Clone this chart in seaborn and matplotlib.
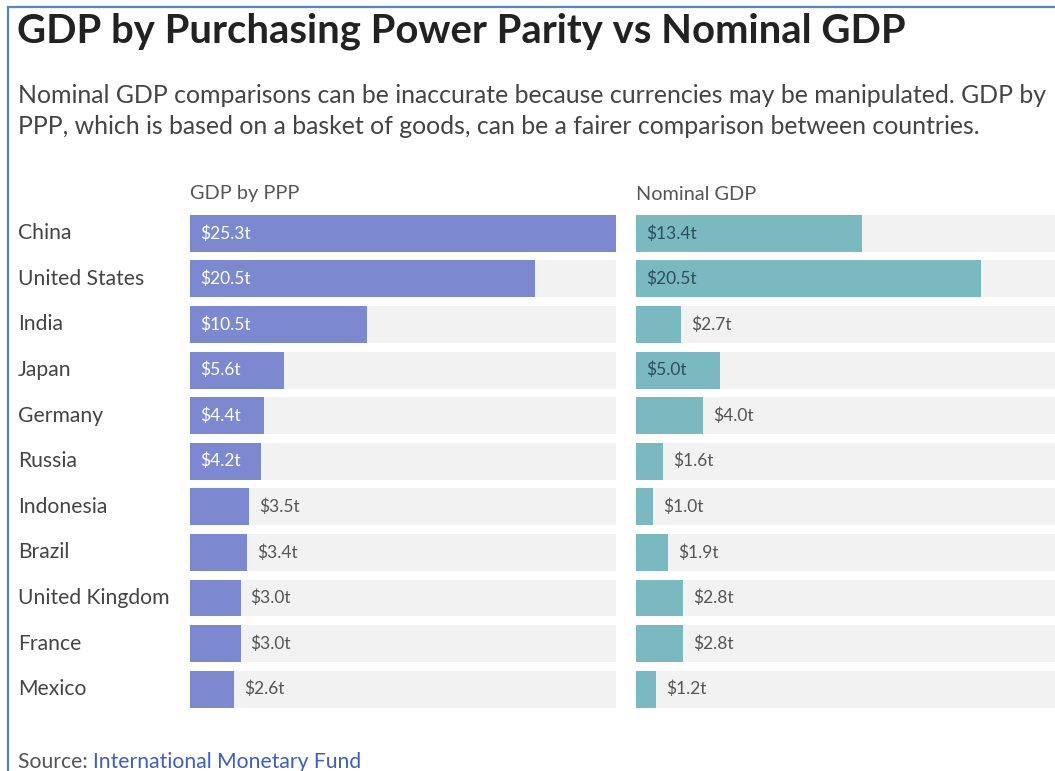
import matplotlib
matplotlib.use("Agg")
import matplotlib.pyplot as plt
import matplotlib.patches as mpatches
from matplotlib import transforms
import seaborn as sns
import pandas as pd

# --- data -------------------------------------------------------------
countries = ["China", "United States", "India", "Japan", "Germany", "Russia",
             "Indonesia", "Brazil", "United Kingdom", "France", "Mexico"]
gdp_ppp = [25.3, 20.5, 10.5, 5.6, 4.4, 4.2, 3.5, 3.4, 3.0, 3.0, 2.6]
gdp_nominal = [13.4, 20.5, 2.7, 5.0, 4.0, 1.6, 1.0, 1.9, 2.8, 2.8, 1.2]
panel_titles = ["GDP by PPP", "Nominal GDP"]

title = "GDP by Purchasing Power Parity vs Nominal GDP"
subtitle = ("Nominal GDP comparisons can be inaccurate because currencies may be manipulated. GDP by\n"
            "PPP, which is based on a basket of goods, can be a fairer comparison between countries.")
source_label = "Source: "
source_name = "International Monetary Fund"

# --- style ------------------------------------------------------------
sns.set_theme(style="white")
plt.rcParams["font.family"] = ["Lato", "DejaVu Sans"]

W, H = 1055, 771
fig = plt.figure(figsize=(W / 100, H / 100), dpi=100)
fig.patch.set_facecolor("white")

def fx(px):
    return px / W

def fy(py):
    return 1 - py / H

PPP_COLOR = "#7c89d1"
NOM_COLOR = "#7ab9c0"
TRACK = "#f2f2f2"

# panel geometry (pixels)
top_px, bottom_px = 210.5, 712.0
left_x0, left_x1 = 190, 616
right_x0, right_x1 = 636, 1055
scale_max = max(gdp_ppp)
right_max = scale_max * (right_x1 - right_x0) / (left_x1 - left_x0)

ax_l = fig.add_axes([fx(left_x0), fy(bottom_px), fx(left_x1 - left_x0), (bottom_px - top_px) / H])
ax_r = fig.add_axes([fx(right_x0), fy(bottom_px), fx(right_x1 - right_x0), (bottom_px - top_px) / H])

inside_threshold = 4.1
n = len(countries)

panels = [
    (ax_l, gdp_ppp, PPP_COLOR, scale_max, "white"),
    (ax_r, gdp_nominal, NOM_COLOR, right_max, "#2e4e58"),
]

for ax, values, color, xmax, inside_color in panels:
    df = pd.DataFrame({"country": countries, "value": values, "track": [xmax] * n})
    sns.barplot(data=df, x="track", y="country", orient="h", color=TRACK,
                saturation=1, width=0.81, linewidth=0, ax=ax)
    sns.barplot(data=df, x="value", y="country", orient="h", color=color,
                saturation=1, width=0.81, linewidth=0, ax=ax)
    ax.set_xlim(0, xmax)
    ax.set_ylim(n - 0.5, -0.5)
    ax.axis("off")
    for i, v in enumerate(values):
        lab = f"${v:.1f}t"
        if v > inside_threshold:
            ax.annotate(lab, xy=(0, i), xytext=(10, 0), textcoords="offset pixels",
                        va="center", ha="left", fontsize=12.5, color=inside_color)
        else:
            ax.annotate(lab, xy=(v, i), xytext=(10, 0), textcoords="offset pixels",
                        va="center", ha="left", fontsize=12.5, color="#555555")

# country names
trans = transforms.blended_transform_factory(fig.transFigure, ax_l.transData)
for i, c in enumerate(countries):
    fig.text(fx(18), i, c, transform=trans, va="center", ha="left",
             fontsize=15.2, color="#444444")

# panel headers
fig.text(fx(left_x0), fy(194), panel_titles[0], va="center", ha="left", fontsize=14.3, color="#555555")
fig.text(fx(right_x0), fy(194), panel_titles[1], va="center", ha="left", fontsize=14.3, color="#555555")

# heading
fig.text(fx(17), fy(42), title, va="baseline", ha="left", fontsize=28.8,
         fontweight="bold", color="#222222")
fig.text(fx(18), fy(134), subtitle, va="baseline", ha="left", fontsize=17.9,
         color="#444444", linespacing=1.4)

# source line
t = fig.text(fx(18), fy(768), source_label, va="baseline", ha="left", fontsize=15.2, color="#555555")
fig.canvas.draw()
bb = t.get_window_extent()
fig.text(bb.x1 / W, fy(768), source_name, va="baseline", ha="left", fontsize=15.2, color="#3d5ec9")

# frame edge on left and top
fig.add_artist(mpatches.Rectangle((fx(8), -0.05), 1.2, fy(7) + 0.05, transform=fig.transFigure,
                                  fill=False, edgecolor="#4f86c6", linewidth=1.6))

fig.savefig("out.png", dpi=100, facecolor="white")
